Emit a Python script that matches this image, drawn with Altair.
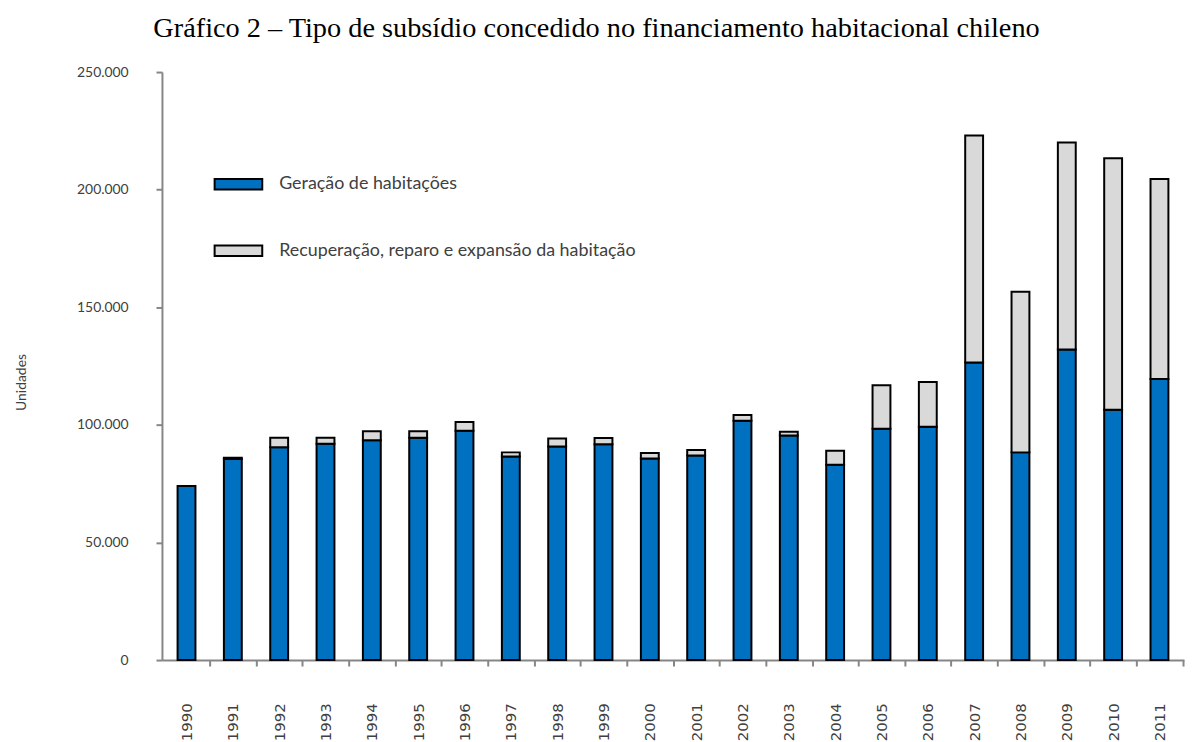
import altair as alt
import pandas as pd

years = [str(y) for y in range(1990, 2012)]
geracao = [74000, 85500, 90500, 92000, 93500, 94500, 97500, 86500, 90800, 91800, 85700,
           87000, 101700, 95500, 83000, 98300, 99200, 126500, 88300, 132000, 106400, 119500]
recuperacao = [0, 500, 4000, 2500, 3800, 2800, 3700, 1800, 3400, 2600, 2300,
               2300, 2500, 1600, 6000, 18500, 19000, 96500, 68300, 88000, 107000, 85000]
series = ["Geração de habitações", "Recuperação, reparo e expansão da habitação"]
colors = ["#0070C0", "#D9D9D9"]
y_ticks = [0, 50000, 100000, 150000, 200000, 250000]

rows = []
for i, y in enumerate(years):
    rows.append({"ano": y, "tipo": series[0], "valor": geracao[i], "ord": 0})
    rows.append({"ano": y, "tipo": series[1], "valor": recuperacao[i], "ord": 1})
df = pd.DataFrame(rows)

txt = "#404040"
half_step = 1029 / 22 / 2

chart = alt.Chart(df).mark_bar(width=18, stroke="black", strokeWidth=2).encode(
    x=alt.X("ano:N", sort=years, title=None,
            scale=alt.Scale(paddingOuter=0.28, paddingInner=0.5),
            axis=alt.Axis(labelAngle=-90, labelFont="DejaVu Sans", labelFontSize=15,
                          labelColor=txt, labelPadding=37,
                          tickOffset=half_step, labelOffset=-half_step,
                          tickSize=6, tickColor="#868686", tickWidth=2,
                          domainColor="#868686", domainWidth=2, labelBaseline="middle")),
    y=alt.Y("valor:Q", stack="zero", title="Unidades",
            scale=alt.Scale(domain=[0, 250000], nice=False),
            axis=alt.Axis(values=y_ticks, grid=False,
                          labelExpr="replace(format(datum.value, ','), ',', '.')",
                          labelFont="Lato", labelFontSize=14, labelColor=txt,
                          labelPadding=28, tickSize=6, tickColor="#868686", tickWidth=2,
                          domainColor="#868686", domainWidth=2,
                          titleFont="Lato", titleFontSize=14, titleFontWeight="normal",
                          titleColor=txt, titleX=-134, titleY=312)),
    color=alt.Color("tipo:N", scale=alt.Scale(domain=series, range=colors),
                    legend=alt.Legend(title=None, orient="none", legendX=52, legendY=88,
                                      direction="vertical",
                                      symbolType="M-1,-0.22H1V0.22H-1Z", symbolSize=2300,
                                      symbolStrokeColor="black", symbolStrokeWidth=2,
                                      symbolOpacity=1, labelLimit=800,
                                      labelFont="Lato", labelFontSize=18, labelColor=txt,
                                      labelOffset=16, rowPadding=32, padding=0)),
    order=alt.Order("ord:Q", sort="ascending"),
).properties(
    width=1029, height=592,
    title=alt.TitleParams("Gráfico 2 – Tipo de subsídio concedido no financiamento habitacional chileno",
                          font="Liberation Serif", fontSize=28.5, fontWeight="normal",
                          color="black", anchor="middle", dx=-77, offset=23),
    autosize=alt.AutoSizeParams(type="none"),
    padding={"left": 155, "top": 62, "right": 3, "bottom": 80},
).configure_view(stroke=None)

chart.save("out.html", embed_options={"renderer": "svg", "actions": False})
